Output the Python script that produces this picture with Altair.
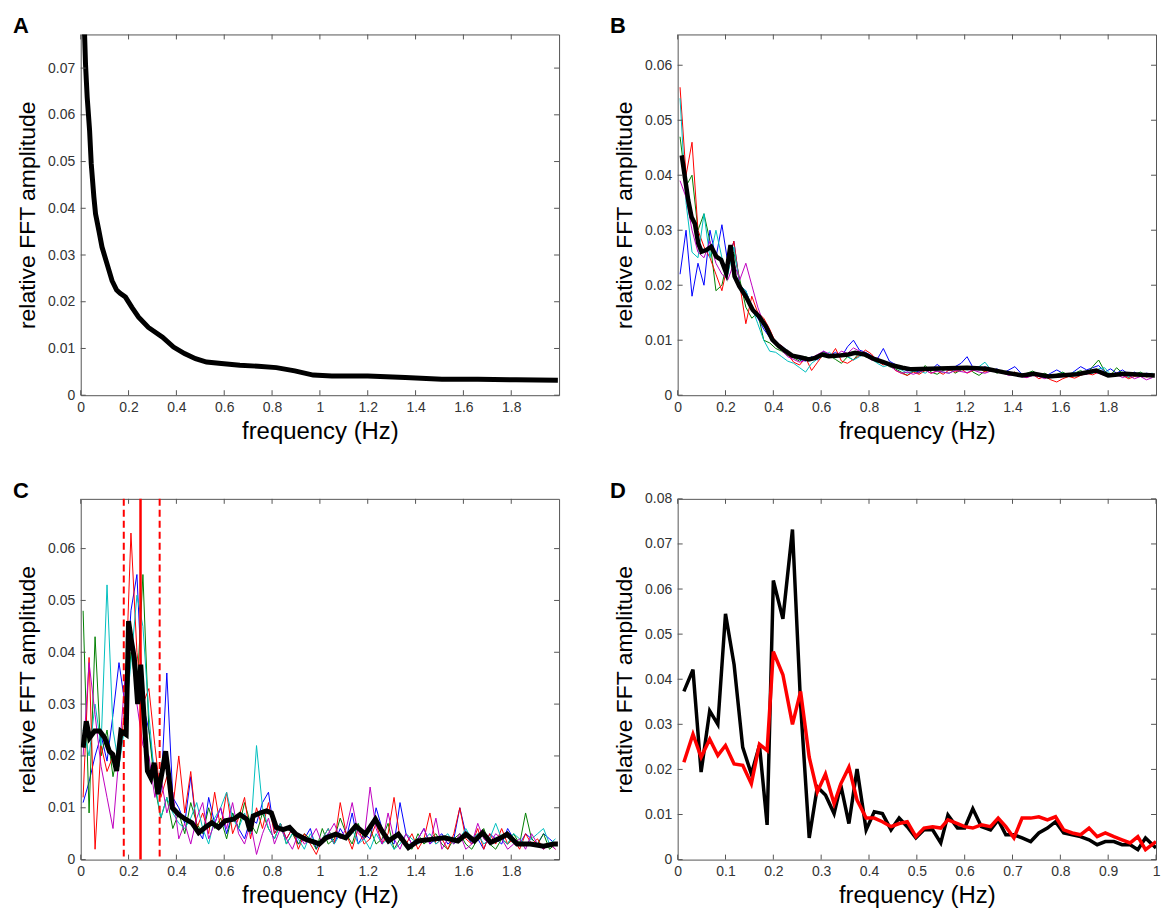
import altair as alt
import pandas as pd

FONT = "Liberation Sans"
AXC = "#555555"
W, H = 480, 362

# ---------------- Panel A ----------------
a_freq = [0.012, 0.016, 0.02, 0.027, 0.037, 0.044, 0.055, 0.062, 0.076, 0.089,
          0.11, 0.131, 0.15, 0.165, 0.187, 0.214, 0.242, 0.283, 0.342, 0.388,
          0.434, 0.48, 0.526, 0.588, 0.665, 0.742, 0.818, 0.895, 0.972, 1.05,
          1.2, 1.357, 1.51, 1.66, 1.82, 1.995]
a_amp = [0.080, 0.0774, 0.0709, 0.0638, 0.0567, 0.0495, 0.0424, 0.0388, 0.0352, 0.0317,
         0.0281, 0.0245, 0.0225, 0.0218, 0.0210, 0.0188, 0.0167, 0.0145, 0.0124, 0.0103,
         0.0089, 0.0078, 0.0071, 0.0068, 0.0064, 0.0062, 0.0059, 0.0052, 0.0043, 0.0041,
         0.0041, 0.0038, 0.0034, 0.0034, 0.0033, 0.0032]

# common frequency bins for the individual (thin) spectra in B and C
bins = [round(0.01 + 0.025 * i, 4) for i in range(80)]

# ---------------- Panel B ----------------
b_mean_freq = [0.017, 0.03, 0.044, 0.058, 0.072, 0.086, 0.1, 0.12, 0.14, 0.162,
               0.182, 0.203, 0.221, 0.238, 0.258, 0.286, 0.314, 0.341, 0.369, 0.396,
               0.424, 0.452, 0.479, 0.52, 0.548, 0.576, 0.604, 0.631, 0.673, 0.714,
               0.742, 0.783, 0.82, 0.86, 0.9, 0.94, 0.977, 1.054, 1.13, 1.21,
               1.29, 1.36, 1.44, 1.49, 1.55, 1.6, 1.67, 1.75, 1.8, 1.87,
               1.935, 1.995]
b_mean_amp = [0.0436, 0.0397, 0.0355, 0.0324, 0.0312, 0.0276, 0.0261, 0.0264, 0.027, 0.0252,
              0.0246, 0.0222, 0.0273, 0.0216, 0.0198, 0.0179, 0.0155, 0.0143, 0.0125, 0.0101,
              0.0089, 0.008, 0.0072, 0.0068, 0.0065, 0.0068, 0.0074, 0.0071, 0.0072, 0.0074,
              0.0077, 0.0074, 0.0066, 0.006, 0.0054, 0.005, 0.0047, 0.0048, 0.0049, 0.005,
              0.0048, 0.0042, 0.0036, 0.0039, 0.0034, 0.0036, 0.0038, 0.0045, 0.0036, 0.0039,
              0.0037, 0.0036]

b_red = [0.056, 0.040, 0.046, 0.030, 0.027, 0.025, 0.022, 0.019, 0.024, 0.028,
         0.020, 0.013, 0.018, 0.015, 0.014, 0.012, 0.0095, 0.0090, 0.0075, 0.0060,
         0.0055, 0.0068, 0.0045, 0.0060, 0.0075, 0.0068, 0.0085, 0.0062, 0.0058, 0.0065,
         0.0072, 0.0082, 0.0075, 0.0062, 0.0055, 0.0058, 0.0045, 0.0040, 0.0036, 0.0042,
         0.0038, 0.0045, 0.0040, 0.0044, 0.0038, 0.0046, 0.0042, 0.0048, 0.0040, 0.0045,
         0.0050, 0.0042, 0.0048, 0.0044, 0.0040, 0.0038, 0.0042, 0.0036, 0.0032, 0.0038,
         0.0030, 0.0034, 0.0028, 0.0024, 0.0030, 0.0034, 0.0031, 0.0036, 0.0040, 0.0037,
         0.0042, 0.0038, 0.0034, 0.0040, 0.0036, 0.0030, 0.0034, 0.0038, 0.0033, 0.0036]
b_green = [0.047, 0.038, 0.040, 0.030, 0.033, 0.028, 0.019, 0.020, 0.025, 0.026,
           0.021, 0.016, 0.014, 0.015, 0.010, 0.0095, 0.0085, 0.0080, 0.0072, 0.0068,
           0.0062, 0.0070, 0.0065, 0.0070, 0.0078, 0.0072, 0.0065, 0.0058, 0.0070, 0.0064,
           0.0078, 0.0070, 0.0066, 0.0060, 0.0062, 0.0052, 0.0048, 0.0042, 0.0036, 0.0044,
           0.0040, 0.0054, 0.0042, 0.0038, 0.0045, 0.0050, 0.0040, 0.0046, 0.0052, 0.0042,
           0.0036, 0.0044, 0.0048, 0.0040, 0.0045, 0.0038, 0.0042, 0.0035, 0.0040, 0.0044,
           0.0036, 0.0040, 0.0034, 0.0038, 0.0042, 0.0036, 0.0040, 0.0045, 0.0038, 0.0052,
           0.0064, 0.0044, 0.0036, 0.0050, 0.0040, 0.0032, 0.0038, 0.0042, 0.0036, 0.0038]
b_blue = [0.022, 0.030, 0.018, 0.024, 0.020, 0.030, 0.025, 0.031, 0.024, 0.028,
          0.020, 0.019, 0.016, 0.014, 0.012, 0.0105, 0.0095, 0.0090, 0.0080, 0.0072,
          0.0065, 0.0062, 0.0070, 0.0064, 0.0080, 0.0072, 0.0078, 0.0070, 0.0088, 0.0100,
          0.0082, 0.0078, 0.0072, 0.0066, 0.0085, 0.0062, 0.0056, 0.0050, 0.0044, 0.0046,
          0.0042, 0.0050, 0.0046, 0.0056, 0.0048, 0.0045, 0.0052, 0.0058, 0.0070, 0.0050,
          0.0046, 0.0052, 0.0044, 0.0048, 0.0040, 0.0046, 0.0052, 0.0040, 0.0036, 0.0042,
          0.0038, 0.0034, 0.0040, 0.0046, 0.0040, 0.0036, 0.0044, 0.0052, 0.0046, 0.0050,
          0.0054, 0.0042, 0.0048, 0.0040, 0.0046, 0.0038, 0.0042, 0.0036, 0.0040, 0.0038]
b_cyan = [0.054, 0.035, 0.026, 0.025, 0.033, 0.025, 0.030, 0.025, 0.022, 0.027,
          0.020, 0.019, 0.016, 0.013, 0.010, 0.0080, 0.0078, 0.0070, 0.0062, 0.0058,
          0.0050, 0.0042, 0.0058, 0.0066, 0.0072, 0.0078, 0.0068, 0.0075, 0.0070, 0.0064,
          0.0070, 0.0076, 0.0066, 0.0058, 0.0052, 0.0055, 0.0050, 0.0046, 0.0040, 0.0043,
          0.0045, 0.0040, 0.0048, 0.0044, 0.0042, 0.0040, 0.0046, 0.0050, 0.0046, 0.0048,
          0.0052, 0.0060, 0.0046, 0.0042, 0.0044, 0.0038, 0.0036, 0.0040, 0.0034, 0.0040,
          0.0036, 0.0032, 0.0038, 0.0034, 0.0040, 0.0038, 0.0042, 0.0040, 0.0044, 0.0040,
          0.0048, 0.0050, 0.0038, 0.0036, 0.0042, 0.0034, 0.0038, 0.0040, 0.0038, 0.0040]
b_magenta = [0.039, 0.036, 0.030, 0.026, 0.025, 0.028, 0.024, 0.022, 0.021, 0.024,
             0.021, 0.024, 0.020, 0.016, 0.013, 0.0110, 0.0092, 0.0082, 0.0070, 0.0065,
             0.0060, 0.0064, 0.0068, 0.0074, 0.0080, 0.0075, 0.0072, 0.0080, 0.0076, 0.0086,
             0.0080, 0.0072, 0.0064, 0.0068, 0.0060, 0.0054, 0.0046, 0.0040, 0.0042, 0.0038,
             0.0042, 0.0046, 0.0040, 0.0044, 0.0042, 0.0040, 0.0045, 0.0043, 0.0041, 0.0046,
             0.0042, 0.0040, 0.0044, 0.0046, 0.0040, 0.0036, 0.0038, 0.0034, 0.0032, 0.0036,
             0.0034, 0.0030, 0.0036, 0.0032, 0.0034, 0.0038, 0.0036, 0.0040, 0.0038, 0.0042,
             0.0040, 0.0036, 0.0034, 0.0038, 0.0032, 0.0036, 0.0030, 0.0034, 0.0028, 0.0032]

# ---------------- Panel C ----------------
c_mean_freq = [0.01, 0.023, 0.037, 0.058, 0.079, 0.1, 0.12, 0.134, 0.15, 0.168,
               0.19, 0.2, 0.21, 0.224, 0.238, 0.251, 0.265, 0.279, 0.293, 0.307,
               0.323, 0.341, 0.355, 0.369, 0.383, 0.41, 0.438, 0.465, 0.493, 0.52,
               0.548, 0.576, 0.604, 0.639, 0.666, 0.694, 0.708, 0.721, 0.749, 0.777,
               0.797, 0.818, 0.846, 0.873, 0.9, 0.942, 0.983, 0.997, 1.025, 1.066,
               1.108, 1.15, 1.19, 1.232, 1.26, 1.287, 1.328, 1.37, 1.41, 1.466,
               1.521, 1.577, 1.611, 1.646, 1.68, 1.714, 1.756, 1.783, 1.825, 1.88,
               1.935, 1.977, 1.995]
c_mean_amp = [0.0216, 0.0267, 0.0235, 0.0248, 0.0248, 0.0235, 0.0209, 0.0203, 0.0171, 0.0248,
              0.0241, 0.046, 0.0428, 0.0389, 0.030, 0.0376, 0.0274, 0.0171, 0.0158, 0.0187,
              0.0126, 0.0171, 0.0209, 0.0158, 0.010, 0.0087, 0.0078, 0.0071, 0.0052, 0.0062,
              0.0071, 0.0062, 0.0075, 0.0078, 0.0087, 0.0078, 0.0055, 0.0084, 0.009, 0.0094,
              0.009, 0.0062, 0.0058, 0.0062, 0.0049, 0.0039, 0.0033, 0.003, 0.0042, 0.0049,
              0.0042, 0.0065, 0.0049, 0.0078, 0.0055, 0.0036, 0.0049, 0.0023, 0.0036, 0.0039,
              0.0042, 0.0036, 0.0049, 0.0036, 0.0052, 0.0033, 0.0042, 0.0049, 0.003, 0.003,
              0.0026, 0.003, 0.003]

c_red = [0.012, 0.039, 0.002, 0.022, 0.017, 0.020, 0.018, 0.030, 0.063, 0.040,
         0.030, 0.033, 0.022, 0.012, 0.016, 0.010, 0.020, 0.009, 0.017, 0.006,
         0.009, 0.005, 0.013, 0.006, 0.013, 0.005, 0.008, 0.012, 0.004, 0.010,
         0.006, 0.011, 0.005, 0.007, 0.004, 0.006, 0.002, 0.005, 0.003, 0.001,
         0.004, 0.006, 0.003, 0.011, 0.005, 0.002, 0.006, 0.003, 0.004, 0.007,
         0.003, 0.005, 0.012, 0.004, 0.003, 0.005, 0.002, 0.004, 0.009, 0.003,
         0.004, 0.002, 0.005, 0.010, 0.004, 0.003, 0.006, 0.002, 0.005, 0.003,
         0.006, 0.003, 0.004, 0.002, 0.005, 0.003, 0.004, 0.002, 0.003, 0.002]
c_green = [0.048, 0.009, 0.043, 0.020, 0.025, 0.016, 0.022, 0.025, 0.040, 0.032,
           0.055, 0.025, 0.014, 0.008, 0.012, 0.006, 0.009, 0.005, 0.011, 0.007,
           0.005, 0.010, 0.006, 0.008, 0.004, 0.009, 0.006, 0.011, 0.007, 0.005,
           0.009, 0.006, 0.004, 0.007, 0.003, 0.005, 0.003, 0.005, 0.004, 0.002,
           0.006, 0.003, 0.004, 0.008, 0.005, 0.003, 0.007, 0.004, 0.006, 0.003,
           0.004, 0.007, 0.002, 0.004, 0.003, 0.002, 0.005, 0.003, 0.004, 0.005,
           0.003, 0.002, 0.004, 0.005, 0.003, 0.002, 0.004, 0.006, 0.003, 0.002,
           0.004, 0.003, 0.005, 0.003, 0.009, 0.004, 0.003, 0.005, 0.002, 0.003]
c_blue = [0.011, 0.015, 0.020, 0.024, 0.019, 0.028, 0.038, 0.030, 0.048, 0.055,
          0.030, 0.025, 0.016, 0.013, 0.036, 0.012, 0.010, 0.007, 0.016, 0.006,
          0.004, 0.012, 0.007, 0.010, 0.005, 0.009, 0.006, 0.004, 0.008, 0.007,
          0.011, 0.013, 0.005, 0.007, 0.004, 0.006, 0.003, 0.004, 0.006, 0.002,
          0.004, 0.005, 0.003, 0.006, 0.004, 0.009, 0.003, 0.005, 0.004, 0.010,
          0.006, 0.004, 0.003, 0.011, 0.005, 0.003, 0.004, 0.006, 0.003, 0.004,
          0.005, 0.003, 0.004, 0.010, 0.005, 0.003, 0.004, 0.002, 0.005, 0.004,
          0.003, 0.006, 0.004, 0.003, 0.005, 0.004, 0.003, 0.005, 0.004, 0.003]
c_cyan = [0.025, 0.020, 0.030, 0.022, 0.053, 0.025, 0.018, 0.026, 0.038, 0.051,
          0.045, 0.028, 0.015, 0.008, 0.012, 0.009, 0.007, 0.006, 0.008, 0.011,
          0.006, 0.003, 0.008, 0.010, 0.013, 0.008, 0.006, 0.009, 0.005, 0.022,
          0.010, 0.006, 0.004, 0.007, 0.003, 0.005, 0.004, 0.002, 0.005, 0.003,
          0.004, 0.006, 0.003, 0.005, 0.004, 0.006, 0.003, 0.004, 0.002, 0.005,
          0.003, 0.004, 0.002, 0.003, 0.005, 0.004, 0.003, 0.004, 0.005, 0.003,
          0.004, 0.005, 0.003, 0.004, 0.006, 0.004, 0.005, 0.003, 0.004, 0.007,
          0.004, 0.003, 0.005, 0.004, 0.003, 0.004, 0.005, 0.006, 0.003, 0.004]
c_magenta = [0.020, 0.038, 0.028, 0.018, 0.012, 0.006, 0.020, 0.035, 0.043, 0.030,
             0.022, 0.020, 0.012, 0.016, 0.009, 0.013, 0.004, 0.007, 0.003, 0.008,
             0.011, 0.004, 0.007, 0.010, 0.006, 0.011, 0.005, 0.003, 0.007, 0.001,
             0.005, 0.008, 0.003, 0.006, 0.004, 0.002, 0.005, 0.003, 0.004, 0.006,
             0.003, 0.005, 0.007, 0.004, 0.006, 0.011, 0.005, 0.004, 0.014, 0.006,
             0.003, 0.009, 0.004, 0.002, 0.005, 0.003, 0.004, 0.006, 0.003, 0.008,
             0.002, 0.004, 0.003, 0.005, 0.002, 0.003, 0.007, 0.004, 0.003, 0.005,
             0.004, 0.002, 0.003, 0.004, 0.002, 0.005, 0.003, 0.002, 0.003, 0.002]
c_band_dashed = [0.18, 0.33]
c_band_solid = [0.25]

# ---------------- Panel D ----------------
d_freq = [0.013, 0.032, 0.049, 0.067, 0.084, 0.1, 0.118, 0.136, 0.154, 0.171,
          0.187, 0.2, 0.22, 0.24, 0.257, 0.275, 0.292, 0.309, 0.327, 0.341,
          0.358, 0.375, 0.394, 0.411, 0.428, 0.446, 0.463, 0.48, 0.498, 0.515,
          0.533, 0.55, 0.565, 0.585, 0.6, 0.617, 0.635, 0.654, 0.67, 0.686,
          0.703, 0.72, 0.738, 0.755, 0.773, 0.79, 0.807, 0.825, 0.842, 0.86,
          0.877, 0.894, 0.912, 0.929, 0.946, 0.962, 0.978, 1.0]
d_black = [0.0373, 0.0421, 0.0194, 0.033, 0.030, 0.0545, 0.0432, 0.0249, 0.019, 0.0253,
           0.0077, 0.0619, 0.0534, 0.0732, 0.0344, 0.0048, 0.0161, 0.0143, 0.0102, 0.0165,
           0.008, 0.0201, 0.0066, 0.0106, 0.0102, 0.0066, 0.0092, 0.0073, 0.0048, 0.0066,
           0.0066, 0.0037, 0.0099, 0.007, 0.007, 0.0113, 0.0073, 0.0066, 0.0088, 0.0055,
           0.0055, 0.0048, 0.004, 0.0059, 0.007, 0.0084, 0.0059, 0.0055, 0.0051, 0.0044,
           0.0033, 0.004, 0.004, 0.0033, 0.0033, 0.0022, 0.0048, 0.0026]
d_red = [0.0216, 0.0278, 0.0227, 0.0267, 0.0231, 0.0253, 0.0212, 0.0209, 0.0168, 0.0256,
         0.0242, 0.0461, 0.041, 0.030, 0.0373, 0.0227, 0.015, 0.019, 0.0124, 0.0168,
         0.0205, 0.0132, 0.0092, 0.0092, 0.0084, 0.0073, 0.008, 0.0084, 0.0051, 0.007,
         0.0073, 0.007, 0.0088, 0.008, 0.0073, 0.007, 0.0077, 0.0073, 0.0092, 0.0073,
         0.0048, 0.0092, 0.0092, 0.0095, 0.0088, 0.0095, 0.0066, 0.0059, 0.0055, 0.007,
         0.0051, 0.0059, 0.0051, 0.0044, 0.0037, 0.0051, 0.0022, 0.004]

X2_TICKS = [0, 0.2, 0.4, 0.6, 0.8, 1, 1.2, 1.4, 1.6, 1.8]
X1_TICKS = [0, 0.1, 0.2, 0.3, 0.4, 0.5, 0.6, 0.7, 0.8, 0.9, 1]

COL = {"red": "#ff0000", "green": "#008000", "blue": "#0000ff",
       "cyan": "#00bfbf", "magenta": "#bf00bf", "black": "#000000"}


def panel(series, xdom, ydom, xticks, yticks, letter, extra=None):
    xs = alt.Scale(domain=xdom, nice=False, zero=False)
    ys = alt.Scale(domain=ydom, nice=False, zero=False)
    xaxis = alt.Axis(values=xticks, format=".1~f", title="frequency (Hz)",
                     labelFlush=False, labelOverlap=False)
    yaxis = alt.Axis(values=yticks, format=".2~f", title="relative FFT amplitude",
                     labelFlush=False, labelOverlap=False)
    xenc = alt.X("f:Q", scale=xs, axis=xaxis)
    yenc = alt.Y("amp:Q", scale=ys, axis=yaxis)
    layers = []
    for (freqs, amps, color, width) in series:
        df = pd.DataFrame({"f": freqs, "amp": amps})
        layers.append(alt.Chart(df).mark_line(color=color, strokeWidth=width, clip=True)
                      .encode(x=xenc, y=yenc))
    if extra is not None:
        layers[-1:-1] = extra(xenc)
    # inward ticks on all four sides
    dx = pd.DataFrame({"f": xticks})
    dy = pd.DataFrame({"amp": yticks})
    rx = alt.Chart(dx).mark_rule(color=AXC, strokeWidth=1)
    ry = alt.Chart(dy).mark_rule(color=AXC, strokeWidth=1)
    layers.append(rx.encode(x=xenc, y=alt.value(H), y2=alt.value(H - 5)))
    layers.append(rx.encode(x=xenc, y=alt.value(0), y2=alt.value(5)))
    layers.append(ry.encode(y=yenc, x=alt.value(0), x2=alt.value(5)))
    layers.append(ry.encode(y=yenc, x=alt.value(W), x2=alt.value(W - 5)))
    # panel letter
    layers.append(alt.Chart(pd.DataFrame({"t": [letter]})).mark_text(
        align="left", baseline="alphabetic", fontSize=22, fontWeight="bold",
        font=FONT, color="black").encode(text="t:N", x=alt.value(-68), y=alt.value(-1)))
    return alt.layer(*layers).properties(width=W, height=H)


thin = 1.0
pA = panel([(a_freq, a_amp, COL["black"], 5)], [0, 2.0], [0, 0.0772],
           X2_TICKS, [0, 0.01, 0.02, 0.03, 0.04, 0.05, 0.06, 0.07], "A")

pB = panel([(bins, b_blue, COL["blue"], thin), (bins, b_green, COL["green"], thin),
            (bins, b_red, COL["red"], thin), (bins, b_cyan, COL["cyan"], thin),
            (bins, b_magenta, COL["magenta"], thin),
            (b_mean_freq, b_mean_amp, COL["black"], 4.5)],
           [0, 2.0], [0, 0.0656], X2_TICKS, [0, 0.01, 0.02, 0.03, 0.04, 0.05, 0.06], "B")


def c_lines(xenc):
    dd = pd.DataFrame({"f": c_band_dashed})
    ds = pd.DataFrame({"f": c_band_solid})
    return [
        alt.Chart(dd).mark_rule(color="#ff0000", strokeWidth=2, strokeDash=[7, 4])
        .encode(x=xenc),
        alt.Chart(ds).mark_rule(color="#ff0000", strokeWidth=2.5)
        .encode(x=xenc),
    ]


pC = panel([(bins, c_blue, COL["blue"], thin), (bins, c_green, COL["green"], thin),
            (bins, c_red, COL["red"], thin), (bins, c_cyan, COL["cyan"], thin),
            (bins, c_magenta, COL["magenta"], thin),
            (c_mean_freq, c_mean_amp, COL["black"], 5)],
           [0, 2.0], [0, 0.0696], X2_TICKS, [0, 0.01, 0.02, 0.03, 0.04, 0.05, 0.06], "C",
           extra=c_lines)

pD = panel([(d_freq, d_black, COL["black"], 3.5), (d_freq, d_red, COL["red"], 3.5)],
           [0, 1.0], [0, 0.08], X1_TICKS,
           [0, 0.01, 0.02, 0.03, 0.04, 0.05, 0.06, 0.07, 0.08], "D")

chart = (alt.concat(pA, pB, pC, pD, columns=2,
                    spacing={"row": 104, "column": 119}, bounds="flush")
         .properties(padding={"left": 12, "top": 13, "right": 0, "bottom": 0},
                     background="white")
         .configure_view(stroke=AXC, strokeWidth=1)
         .configure_axis(grid=False, domain=False, ticks=False,
                         labelFont=FONT, labelFontSize=14, labelColor="#333333",
                         titleFont=FONT, titleFontWeight="normal",
                         titleColor="black")
         .configure_axisX(labelPadding=5, titlePadding=5, titleFontSize=24)
         .configure_axisY(labelPadding=6, titlePadding=8, titleFontSize=23))

chart.save("out.html", embed_options={"renderer": "svg", "actions": False})
